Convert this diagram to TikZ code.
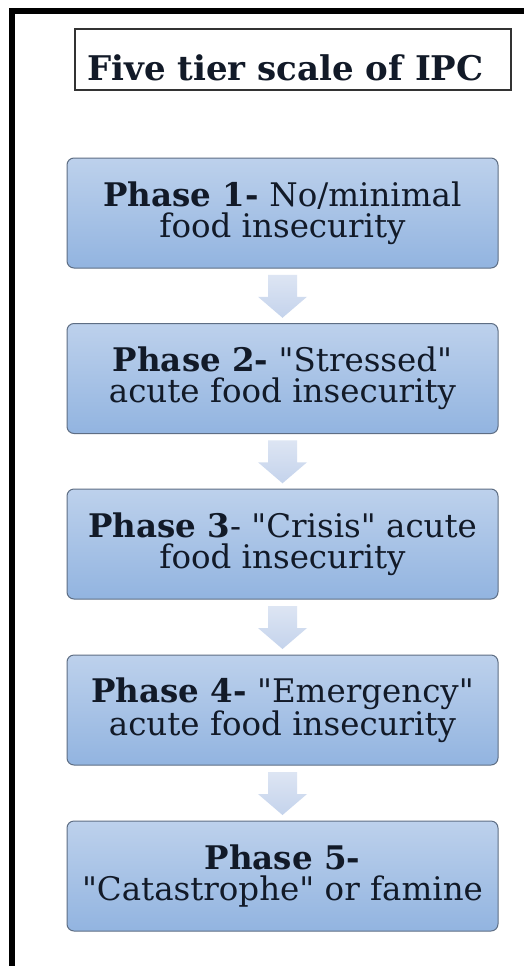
\documentclass[tikz,border=0pt]{standalone}
\usepackage{fontspec}
\setmainfont{DejaVu Serif}
\usetikzlibrary{calc}
\definecolor{boxtop}{HTML}{BDD1EC}
\definecolor{boxbot}{HTML}{92B4E0}
\definecolor{boxline}{HTML}{5E6E84}
\definecolor{arrtop}{HTML}{DDE5F3}
\definecolor{arrbot}{HTML}{C4D3EC}
\definecolor{inktext}{HTML}{121A28}
\newcommand{\sq}{\textquotedbl}
\tikzset{
 phasebox/.style={draw=boxline, line width=1pt, rounded corners=7pt, top color=boxtop, bottom color=boxbot,
   minimum width=431pt, minimum height=110pt, align=center, inner sep=0pt,
   font=\fontsize{32.5}{31}\selectfont, text=inktext},
 titlebox/.style={draw=black!80, line width=1.2pt, minimum width=436pt, minimum height=61pt, inner sep=0pt,
   text height=42pt, text depth=0pt,
   font=\fontsize{34}{38}\selectfont\bfseries, text=inktext},
 outerframe/.style={line width=5.5pt, line join=miter},
 flowarrow/.style={top color=arrtop, bottom color=arrbot, draw=none},
}
\begin{document}
\begin{tikzpicture}[x=1pt,y=-1pt]
\useasboundingbox (0,0) rectangle (523,966);
\fill[white] (0,0) rectangle (523,966);
\draw[outerframe] (12,975) -- (12,11) -- (535,11);
\node[titlebox] (title) at (293,59.5) {Five tier scale of IPC\hspace*{15pt}};
\node[phasebox] (b1) at (282.5,213) {\textbf{Phase 1-} No/minimal\\food insecurity};
\node[phasebox] (b2) at (282.5,378.5) {\textbf{Phase 2-} \sq Stressed\sq\\acute food insecurity};
\node[phasebox] (b3) at (282.5,544) {\textbf{Phase 3}- \sq Crisis\sq{} acute\\food insecurity};
\node[phasebox] (b4) at (282.5,710) {\textbf{Phase 4-} \sq Emergency\sq\\acute food insecurity};
\node[phasebox] (b5) at (282.5,876) {\textbf{Phase 5-}\\\sq Catastrophe\sq{} or famine};
\foreach \p/\q in {b1/b2,b2/b3,b3/b4,b4/b5} {
  \path (\p.south) -- (\q.north) coordinate[pos=0.5] (m\p);
  \shade[flowarrow] ($(m\p)+(-14.5,-21)$) -- ($(m\p)+(14.5,-21)$) -- ($(m\p)+(14.5,1)$)
     -- ($(m\p)+(24.5,1)$) -- ($(m\p)+(0,22)$) -- ($(m\p)+(-24.5,1)$) -- ($(m\p)+(-14.5,1)$) -- cycle;
}
\end{tikzpicture}
\end{document}
